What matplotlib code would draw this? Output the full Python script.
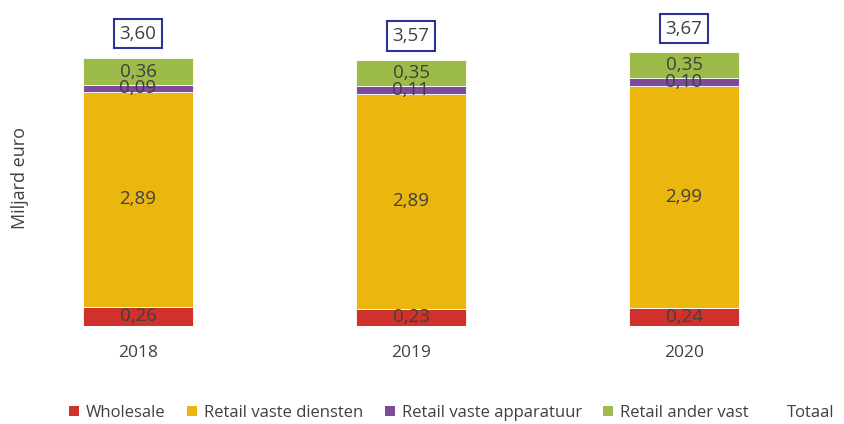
import matplotlib.pyplot as plt
from matplotlib.patches import Patch

years = ["2018", "2019", "2020"]
wholesale = [0.26, 0.23, 0.24]
retail_diensten = [2.89, 2.89, 2.99]
retail_apparatuur = [0.09, 0.11, 0.10]
retail_ander = [0.36, 0.35, 0.35]
totaal = [3.60, 3.57, 3.67]

series_names = ["Wholesale", "Retail vaste diensten", "Retail vaste apparatuur", "Retail ander vast"]
colors = ["#D0312D", "#EBB70F", "#7E4A9A", "#9CBB48"]

def fmt(v):
    return f"{v:.2f}".replace(".", ",")

plt.rcParams['font.family'] = ['Open Sans', 'DejaVu Sans']
fig = plt.figure(figsize=(8.45, 4.24), dpi=100)
W, H = 845, 424
ax = fig.add_axes([40 / W, 1 - 326 / H, 780 / W, 316 / H])

x = list(range(len(years)))
bottom = [0.0] * len(years)
for vals, col in zip([wholesale, retail_diensten, retail_apparatuur, retail_ander], colors):
    ax.bar(x, vals, width=0.40, bottom=bottom, color=col, edgecolor='white', linewidth=0.6)
    for xi, b, v in zip(x, bottom, vals):
        ax.text(xi, b + v / 2, fmt(v), ha='center', va='center', fontsize=13.5, color='#404040')
    bottom = [b + v for b, v in zip(bottom, vals)]

for xi, t in zip(x, totaal):
    ax.text(xi, t + 0.33, fmt(t), ha='center', va='center', fontsize=13.5, color='#404040',
            bbox=dict(boxstyle='square,pad=0.3', facecolor='white', edgecolor='#2E3192', linewidth=1.5))

ax.set_xlim(-0.359, 2.498)
ax.set_ylim(0, 4.25)
ax.set_xticks(x)
ax.set_xticklabels(years, fontsize=12.5, color='#404040')
ax.tick_params(axis='x', length=0, pad=14)
ax.set_yticks([])
for s in ax.spines.values():
    s.set_visible(False)

fig.text(20 / W, 1 - 178 / H, "Miljard euro", rotation=90, ha='center', va='center',
         fontsize=13, color='#404040')

handles = [Patch(facecolor=c, edgecolor='none') for c in colors]
handles.append(Patch(facecolor='none', edgecolor='none'))
labels = series_names + ["Totaal"]
fig.legend(handles, labels, loc='center', bbox_to_anchor=(0.535, 1 - 413 / H), ncol=5,
           frameon=False, fontsize=12, handlelength=0.6, handleheight=0.6,
           handletextpad=0.4, columnspacing=1.3, labelcolor='#404040')

fig.savefig("out.png", dpi=100)
